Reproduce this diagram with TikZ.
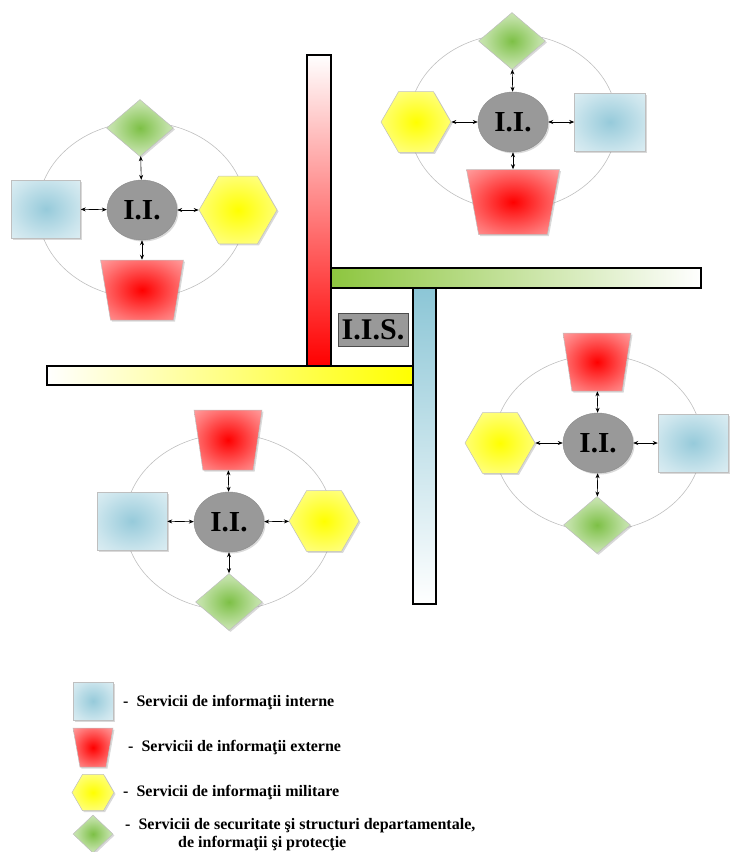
\documentclass[tikz,border=0pt]{standalone}
\usepackage{fontspec}
\setmainfont{Liberation Serif}
\usetikzlibrary{shapes.geometric,arrows.meta,shadows}

\definecolor{iblue}{RGB}{150,202,218}
\definecolor{igreen}{RGB}{125,192,70}
\definecolor{barblue}{RGB}{140,198,214}
\definecolor{bargreen}{RGB}{141,198,63}

\pgfdeclareradialshading{blueglow}{\pgfpoint{0bp}{0bp}}{color(0bp)=(iblue); color(25bp)=(iblue!50); color(50bp)=(iblue!10)}
\pgfdeclareradialshading{redglow}{\pgfpoint{0bp}{0bp}}{color(0bp)=(red); color(25bp)=(red!55); color(50bp)=(red!15)}
\pgfdeclareradialshading{yellowglow}{\pgfpoint{0bp}{0bp}}{color(0bp)=(yellow); color(25bp)=(yellow!55); color(50bp)=(yellow!10)}
\pgfdeclareradialshading{greenglow}{\pgfpoint{0bp}{0bp}}{color(0bp)=(igreen); color(20bp)=(igreen!50); color(40bp)=(igreen!15); color(50bp)=(igreen!10)}

\tikzset{
  base/.style={draw=black!25, line width=0.5pt, inner sep=0pt,
    drop shadow={shadow xshift=1.5pt, shadow yshift=-1.5pt, opacity=0.3}},
  intern/.style={base, rectangle, minimum width=70pt, minimum height=58pt, shading=blueglow},
  extern/.style={base, trapezium, trapezium stretches=true, shape border rotate=180, inner sep=2pt,
    trapezium angle=80, minimum width=68pt, minimum height=60pt, shading=redglow},
  military/.style={base, regular polygon, regular polygon sides=6, minimum size=70pt, shading=yellowglow},
  security/.style={base, diamond, minimum width=67pt, minimum height=57pt, shading=greenglow},
  ii/.style={ellipse, fill=black!40, draw=black!45, minimum width=70pt, minimum height=60pt,
    inner sep=0pt, font=\bfseries\fontsize{29}{29}\selectfont,
    drop shadow={shadow xshift=1.5pt, shadow yshift=-1.5pt, opacity=0.3}},
  ring/.style={draw=black!25, line width=0.6pt},
  link/.style={<->, >={Stealth[length=5pt,width=4pt]}, line width=0.6pt},
  bar/.style={draw=black, line width=1.6pt},
  legtext/.style={anchor=base west, inner sep=0pt,
    font=\bfseries\fontsize{16}{20}\selectfont}
}

\begin{document}
\begin{tikzpicture}[x=1pt, y=-1pt]
  \useasboundingbox (0,0) rectangle (729,852);

  % the four bars
  \shadedraw[bar, left color=bargreen, right color=white] (331,268) rectangle (701,288);
  \shadedraw[bar, top color=white, bottom color=red] (307,55) rectangle (331,366);
  \shadedraw[bar, left color=white, right color=yellow] (47,366) rectangle (413,385);
  \shadedraw[bar, top color=barblue, bottom color=white] (413,288) rectangle (436,604);
  \node[fill=black!40, draw=black!70, line width=0.8pt, minimum width=70pt, minimum height=33pt,
    inner sep=0pt, font=\bfseries\fontsize{30}{30}\selectfont] (iis) at (373,330) {I.I.S.};

  % top left
  \begin{scope}[shift={(142,210)}]
    \draw[ring] (0,0) ellipse [x radius=104pt, y radius=88pt];
    \node[ii] (tl) at (0,0) {I.I.};
    \node[security] (tl-s) at (-2,-82) {};
    \node[extern, minimum width=83pt, trapezium angle=81] (tl-e) at (0,80) {};
    \node[intern, minimum width=69pt] (tl-i) at (-96,-1) {};
    \node[military, minimum size=78pt] (tl-m) at (96,0) {};
    \draw[link] (tl) to (tl-s);
    \draw[link] (tl) to (tl-e);
    \draw[link] (tl) to (tl-i);
    \draw[link] (tl) to (tl-m);
  \end{scope}

  % top right
  \begin{scope}[shift={(513,122)}]
    \draw[ring] (0,0) ellipse [x radius=104pt, y radius=88pt];
    \node[ii] (tr) at (0,0) {I.I.};
    \node[security] (tr-s) at (-1,-81) {};
    \node[extern, minimum width=93pt, minimum height=65pt] (tr-e) at (0,80) {};
    \node[military] (tr-m) at (-97,0) {};
    \node[intern, minimum width=71pt] (tr-i) at (97,0) {};
    \draw[link] (tr) to (tr-s);
    \draw[link] (tr) to (tr-e);
    \draw[link] (tr) to (tr-m);
    \draw[link] (tr) to (tr-i);
  \end{scope}

  % bottom left
  \begin{scope}[shift={(229,522)}]
    \draw[ring] (0,0) ellipse [x radius=104pt, y radius=88pt];
    \node[ii] (bl) at (0,0) {I.I.};
    \node[extern] (bl-e) at (-1,-82) {};
    \node[intern] (bl-i) at (-97,-1) {};
    \node[military] (bl-m) at (95,-1) {};
    \node[security] (bl-s) at (0,80) {};
    \draw[link] (bl) to (bl-e);
    \draw[link] (bl) to (bl-i);
    \draw[link] (bl) to (bl-m);
    \draw[link] (bl) to (bl-s);
  \end{scope}

  % bottom right
  \begin{scope}[shift={(598,443)}]
    \draw[ring] (0,0) ellipse [x radius=104pt, y radius=88pt];
    \node[ii] (br) at (0,0) {I.I.};
    \node[extern, minimum height=58pt] (br-e) at (-1,-81) {};
    \node[military] (br-m) at (-98,0) {};
    \node[intern] (br-i) at (95,0) {};
    \node[security] (br-s) at (-1,82) {};
    \draw[link] (br) to (br-e);
    \draw[link] (br) to (br-m);
    \draw[link] (br) to (br-i);
    \draw[link] (br) to (br-s);
  \end{scope}

  % legend
  \node[intern, minimum width=40pt, minimum height=38pt] (key-i) at (93,701) {};
  \node[extern, minimum width=40pt, minimum height=39pt, trapezium angle=75] (key-e) at (93,747.5) {};
  \node[military, minimum size=42pt] (key-m) at (93,792.5) {};
  \node[security, minimum width=40pt, minimum height=38pt] (key-s) at (93,834) {};
  \node[legtext] (txt-i) at (123,706.5) {-\enspace Servicii de informaţii interne};
  \node[legtext] (txt-e) at (128,751.5) {-\enspace Servicii de informaţii externe};
  \node[legtext] (txt-m) at (123,796.5) {-\enspace Servicii de informaţii militare};
  \node[legtext] (txt-s) at (125,829.5) {-\enspace Servicii de securitate şi structuri departamentale,};
  \node[legtext] (txt-s2) at (178,847.5) {de informaţii şi protecţie};
\end{tikzpicture}
\end{document}
